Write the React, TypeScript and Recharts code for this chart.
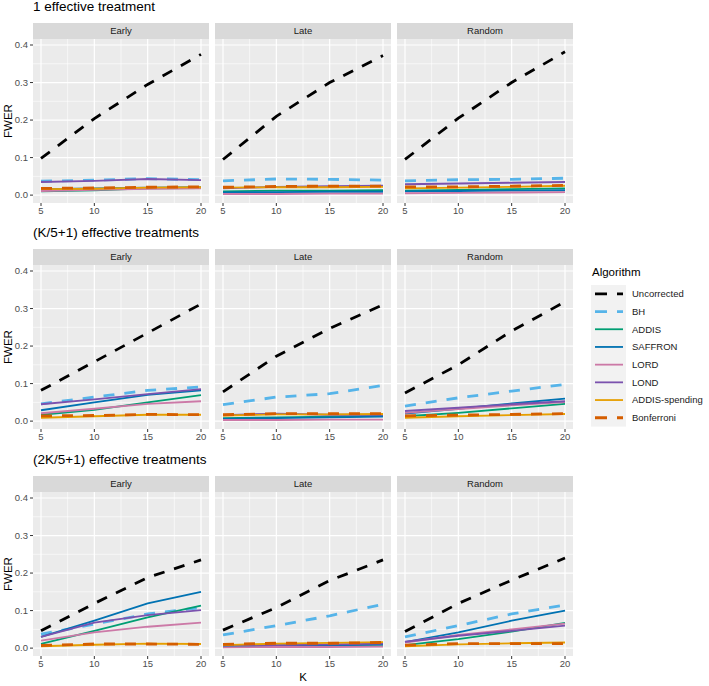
import React from 'react';
import { LineChart, Line, XAxis, YAxis, CartesianGrid } from 'recharts';

// ---------- data ----------
const kValues = [5, 10, 15, 20];
const algorithms = ['Uncorrected', 'BH', 'ADDIS', 'SAFFRON', 'LORD', 'LOND', 'ADDIS-spending', 'Bonferroni'];
const rowTitles = ['1 effective treatment', '(K/5+1) effective treatments', '(2K/5+1) effective treatments'];
const columnLabels = ['Early', 'Late', 'Random'];
const xTicks = [5, 10, 15, 20];
const xMinor = [7.5, 12.5, 17.5];
const yTicks = [0, 0.1, 0.2, 0.3, 0.4];
const yMinor = [0.05, 0.15, 0.25, 0.35];

const row1Early = {
  Uncorrected: [0.098, 0.204, 0.295, 0.375],
  BH: [0.037, 0.040, 0.044, 0.041],
  ADDIS: [0.010, 0.013, 0.018, 0.019],
  SAFFRON: [0.016, 0.018, 0.020, 0.021],
  LORD: [0.011, 0.014, 0.017, 0.018],
  LOND: [0.035, 0.038, 0.043, 0.040],
  'ADDIS-spending': [0.016, 0.017, 0.020, 0.021],
  Bonferroni: [0.018, 0.019, 0.021, 0.022],
};
const row1Late = {
  Uncorrected: [0.095, 0.210, 0.300, 0.372],
  BH: [0.038, 0.043, 0.042, 0.040],
  ADDIS: [0.010, 0.012, 0.012, 0.013],
  SAFFRON: [0.007, 0.008, 0.009, 0.009],
  LORD: [0.003, 0.003, 0.004, 0.004],
  LOND: [0.018, 0.022, 0.024, 0.025],
  'ADDIS-spending': [0.020, 0.021, 0.021, 0.022],
  Bonferroni: [0.021, 0.023, 0.024, 0.024],
};
const row1Random = {
  Uncorrected: [0.095, 0.205, 0.300, 0.382],
  BH: [0.038, 0.041, 0.042, 0.045],
  ADDIS: [0.012, 0.014, 0.016, 0.018],
  SAFFRON: [0.010, 0.011, 0.012, 0.013],
  LORD: [0.005, 0.006, 0.007, 0.008],
  LOND: [0.029, 0.031, 0.033, 0.035],
  'ADDIS-spending': [0.018, 0.020, 0.022, 0.025],
  Bonferroni: [0.022, 0.022, 0.024, 0.026],
};
const row2Early = {
  Uncorrected: [0.082, 0.158, 0.235, 0.312],
  BH: [0.046, 0.064, 0.082, 0.091],
  ADDIS: [0.017, 0.030, 0.050, 0.069],
  SAFFRON: [0.029, 0.050, 0.070, 0.082],
  LORD: [0.021, 0.033, 0.046, 0.053],
  LOND: [0.045, 0.058, 0.072, 0.085],
  'ADDIS-spending': [0.009, 0.013, 0.017, 0.017],
  Bonferroni: [0.014, 0.015, 0.018, 0.017],
};
const row2Late = {
  Uncorrected: [0.078, 0.173, 0.247, 0.310],
  BH: [0.044, 0.064, 0.073, 0.095],
  ADDIS: [0.008, 0.010, 0.012, 0.014],
  SAFFRON: [0.006, 0.008, 0.010, 0.012],
  LORD: [0.003, 0.003, 0.004, 0.004],
  LOND: [0.016, 0.020, 0.017, 0.017],
  'ADDIS-spending': [0.015, 0.018, 0.018, 0.019],
  Bonferroni: [0.017, 0.020, 0.020, 0.020],
};
const row2Random = {
  Uncorrected: [0.075, 0.150, 0.240, 0.318],
  BH: [0.040, 0.062, 0.080, 0.098],
  ADDIS: [0.013, 0.022, 0.034, 0.046],
  SAFFRON: [0.020, 0.033, 0.047, 0.060],
  LORD: [0.022, 0.032, 0.042, 0.051],
  LOND: [0.027, 0.036, 0.045, 0.053],
  'ADDIS-spending': [0.009, 0.013, 0.016, 0.019],
  Bonferroni: [0.014, 0.016, 0.018, 0.020],
};
const row3Early = {
  Uncorrected: [0.046, 0.119, 0.188, 0.235],
  BH: [0.037, 0.064, 0.091, 0.108],
  ADDIS: [0.011, 0.046, 0.082, 0.113],
  SAFFRON: [0.030, 0.073, 0.119, 0.150],
  LORD: [0.020, 0.042, 0.057, 0.068],
  LOND: [0.030, 0.068, 0.088, 0.101],
  'ADDIS-spending': [0.005, 0.009, 0.012, 0.011],
  Bonferroni: [0.007, 0.011, 0.011, 0.010],
};
const row3Late = {
  Uncorrected: [0.048, 0.108, 0.180, 0.235],
  BH: [0.035, 0.060, 0.086, 0.117],
  ADDIS: [0.006, 0.007, 0.008, 0.009],
  SAFFRON: [0.005, 0.006, 0.007, 0.010],
  LORD: [0.002, 0.003, 0.003, 0.004],
  LOND: [0.008, 0.008, 0.010, 0.012],
  'ADDIS-spending': [0.008, 0.012, 0.014, 0.016],
  Bonferroni: [0.010, 0.013, 0.013, 0.015],
};
const row3Random = {
  Uncorrected: [0.044, 0.119, 0.181, 0.240],
  BH: [0.030, 0.060, 0.091, 0.115],
  ADDIS: [0.008, 0.024, 0.044, 0.067],
  SAFFRON: [0.016, 0.042, 0.073, 0.100],
  LORD: [0.015, 0.035, 0.050, 0.065],
  LOND: [0.017, 0.033, 0.046, 0.060],
  'ADDIS-spending': [0.005, 0.010, 0.013, 0.015],
  Bonferroni: [0.008, 0.012, 0.012, 0.012],
};

const panels = [
  [row1Early, row1Late, row1Random],
  [row2Early, row2Late, row2Random],
  [row3Early, row3Late, row3Random],
];

// ---------- styles ----------
const algoColors = ['#000000', '#56B4E9', '#009E73', '#0072B2', '#CC79A7', '#7B52AE', '#E69F00', '#D55E00'];
const algoDashed = [true, true, false, false, false, false, false, true];

const FONT = '"Liberation Sans", Arial, Helvetica, sans-serif';
const PANEL_LEFTS = [33, 215, 397];
const PANEL_W = 176;
const PANEL_TOPS = [39, 265, 492];
const PANEL_H = 164;
const STRIP_H = 16;
const X_AXIS_H = 18;
const DASH = '11 10';

function buildRows(panel: Record<string, number[]>) {
  return kValues.map((k, i) => {
    const row: Record<string, number> = { K: k };
    algorithms.forEach((a) => {
      row[a] = panel[a][i];
    });
    return row;
  });
}

function Panel({ panel, row, col }: { panel: Record<string, number[]>; row: number; col: number }) {
  const first = col === 0;
  const left = first ? 0 : PANEL_LEFTS[col];
  const width = first ? PANEL_LEFTS[0] + PANEL_W : PANEL_W;
  const data = buildRows(panel);
  return (
    <div style={{ position: 'absolute', left, top: PANEL_TOPS[row] }}>
      <LineChart width={width} height={PANEL_H + X_AXIS_H} data={data} margin={{ top: 0, right: 0, bottom: 0, left: 0 }}>
        <CartesianGrid fill="#EBEBEB" fillOpacity={1} stroke="#FFFFFF" strokeWidth={0.6} horizontalValues={yMinor} verticalValues={xMinor} />
        <CartesianGrid stroke="#FFFFFF" strokeWidth={1.2} horizontalValues={yTicks} verticalValues={xTicks} />
        <XAxis
          dataKey="K"
          type="number"
          domain={[4.25, 20.75]}
          allowDataOverflow
          ticks={xTicks}
          interval={0}
          axisLine={false}
          tickSize={3}
          tickMargin={1}
          height={X_AXIS_H}
          tickLine={{ stroke: '#333333' }}
          tick={{ fontSize: 9.5, fill: '#4D4D4D', fontFamily: FONT }}
        />
        <YAxis
          type="number"
          domain={[-0.021, 0.416]}
          allowDataOverflow
          ticks={yTicks}
          interval={0}
          hide={!first}
          width={PANEL_LEFTS[0]}
          axisLine={false}
          tickSize={3}
          tickMargin={2}
          tickLine={{ stroke: '#333333' }}
          tick={{ fontSize: 9.5, fill: '#4D4D4D', fontFamily: FONT }}
          tickFormatter={(v: number) => v.toFixed(1)}
        />
        {algorithms.map((a, i) => (
          <Line
            key={a}
            dataKey={a}
            type="linear"
            stroke={algoColors[i]}
            strokeWidth={algoDashed[i] ? 2.8 : 1.8}
            strokeDasharray={algoDashed[i] ? DASH : undefined}
            strokeLinecap="butt"
            dot={false}
            activeDot={false}
            isAnimationActive={false}
          />
        ))}
      </LineChart>
    </div>
  );
}

function Legend() {
  const top = 285;
  const keyH = 17.7;
  return (
    <>
      <div style={{ position: 'absolute', left: 592, top: 266, fontSize: 11.5, color: '#000', fontFamily: FONT }}>Algorithm</div>
      <svg style={{ position: 'absolute', left: 591, top }} width={118} height={keyH * 8 + 2}>
        <rect x={0} y={0} width={35} height={keyH * 8} fill="#F2F2F2" />
        {algorithms.map((a, i) => (
          <g key={a}>
            <line
              x1={4}
              x2={32}
              y1={keyH * i + keyH / 2}
              y2={keyH * i + keyH / 2}
              stroke={algoColors[i]}
              strokeWidth={algoDashed[i] ? 2.8 : 1.8}
              strokeDasharray={algoDashed[i] ? '12 10' : undefined}
            />
            <text x={41} y={keyH * i + keyH / 2} dy="0.35em" fontSize={9.5} fill="#1A1A1A" fontFamily={FONT}>
              {a}
            </text>
          </g>
        ))}
      </svg>
    </>
  );
}

export default function App() {
  return (
    <div style={{ position: 'absolute', left: 0, top: 0, width: 709, height: 686, background: '#FFFFFF', fontFamily: FONT, overflow: 'hidden' }}>
      {rowTitles.map((t, r) => (
        <div key={t} style={{ position: 'absolute', left: 33, top: PANEL_TOPS[r] - STRIP_H - 24, fontSize: 13.5, color: '#000', whiteSpace: 'nowrap', lineHeight: '16px' }}>
          {t}
        </div>
      ))}
      {rowTitles.map((t, r) => (
        <div
          key={'y' + t}
          style={{
            position: 'absolute',
            left: 8 - 30,
            top: PANEL_TOPS[r] + PANEL_H / 2 - 8,
            width: 60,
            height: 16,
            lineHeight: '16px',
            textAlign: 'center',
            fontSize: 11.5,
            color: '#000',
            transform: 'rotate(-90deg)',
          }}
        >
          FWER
        </div>
      ))}
      {rowTitles.map((t, r) =>
        columnLabels.map((c, ci) => (
          <div
            key={t + c}
            style={{
              position: 'absolute',
              left: PANEL_LEFTS[ci],
              top: PANEL_TOPS[r] - STRIP_H,
              width: PANEL_W,
              height: STRIP_H,
              background: '#D9D9D9',
              color: '#1A1A1A',
              fontSize: 9.5,
              lineHeight: STRIP_H + 'px',
              textAlign: 'center',
            }}
          >
            {c}
          </div>
        ))
      )}
      {panels.map((rowPanels, r) => rowPanels.map((p, c) => <Panel key={r + '-' + c} panel={p} row={r} col={c} />))}
      <div style={{ position: 'absolute', left: 33, width: 540, top: 671, textAlign: 'center', fontSize: 11.5, color: '#000' }}>K</div>
      <Legend />
    </div>
  );
}
